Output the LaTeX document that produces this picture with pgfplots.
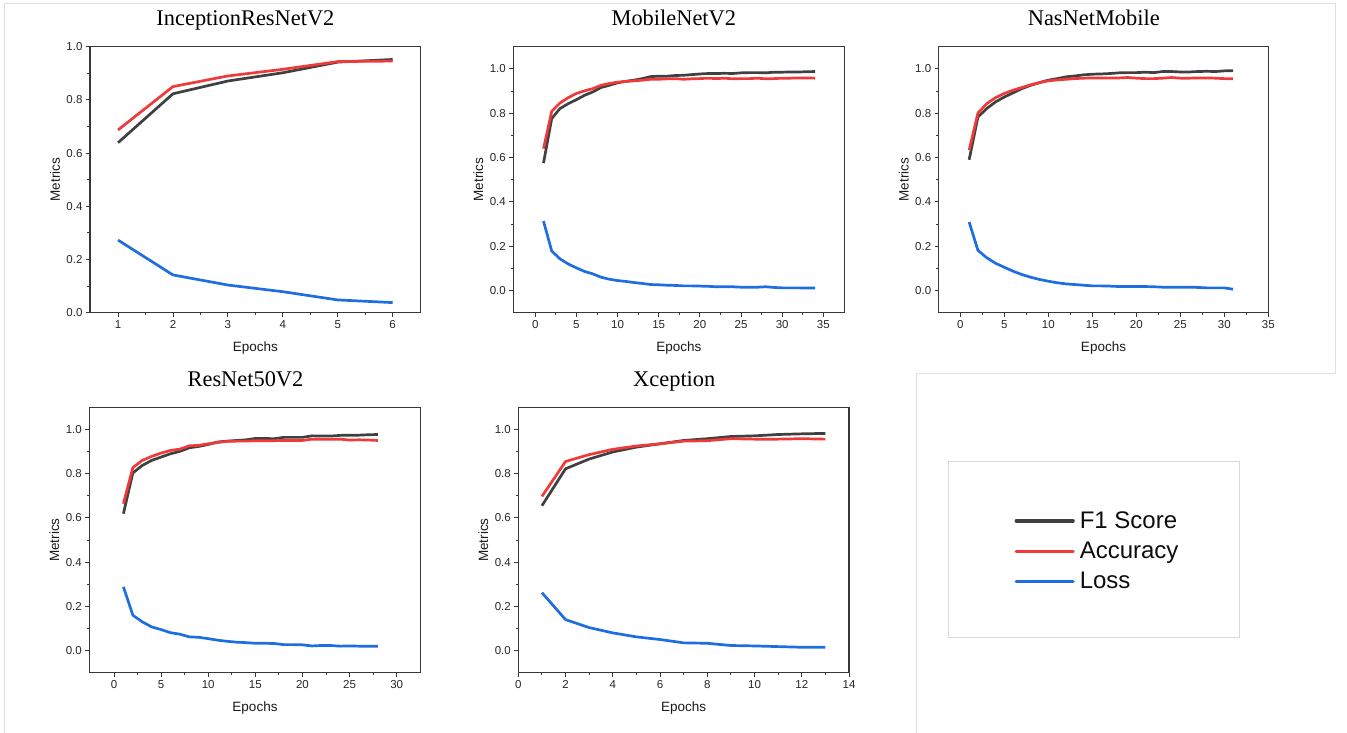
\documentclass[border=0pt]{standalone}
\usepackage{pgfplots}
\usepackage{pgfplotstable}
\pgfplotsset{compat=1.18}
\usepackage{fontspec}
\setmainfont{Liberation Sans}
\newfontfamily\titlefont{Liberation Serif}
\definecolor{f1c}{RGB}{64,64,64}
\definecolor{accc}{RGB}{240,58,58}
\definecolor{lossc}{RGB}{30,110,225}

\pgfplotstableread{
e f1 acc loss
1 0.639 0.687 0.273
2 0.823 0.850 0.142
3 0.871 0.890 0.104
4 0.902 0.915 0.079
5 0.942 0.944 0.048
6 0.952 0.946 0.038
}\dInc

\pgfplotstableread{
e f1 acc loss
1 0.575 0.640 0.313
2 0.776 0.809 0.178
3 0.821 0.846 0.143
4 0.843 0.870 0.120
5 0.861 0.889 0.102
6 0.881 0.901 0.086
7 0.896 0.911 0.075
8 0.916 0.926 0.060
9 0.926 0.934 0.051
10 0.937 0.940 0.045
11 0.944 0.943 0.041
12 0.949 0.946 0.036
13 0.956 0.949 0.032
14 0.965 0.953 0.027
15 0.967 0.953 0.026
16 0.967 0.955 0.024
17 0.970 0.956 0.023
18 0.971 0.953 0.021
19 0.974 0.955 0.021
20 0.977 0.956 0.020
21 0.979 0.958 0.019
22 0.979 0.956 0.017
23 0.980 0.958 0.017
24 0.979 0.955 0.017
25 0.982 0.956 0.015
26 0.983 0.956 0.015
27 0.983 0.958 0.015
28 0.982 0.955 0.017
29 0.985 0.956 0.014
30 0.985 0.958 0.012
31 0.986 0.958 0.012
32 0.986 0.959 0.012
33 0.987 0.959 0.011
34 0.988 0.958 0.011
}\dMob

\pgfplotstableread{
e f1 acc loss
1 0.590 0.633 0.309
2 0.783 0.801 0.181
3 0.821 0.843 0.148
4 0.851 0.870 0.123
5 0.873 0.889 0.105
6 0.892 0.904 0.087
7 0.911 0.916 0.072
8 0.926 0.928 0.060
9 0.938 0.938 0.050
10 0.949 0.946 0.042
11 0.956 0.950 0.035
12 0.964 0.953 0.030
13 0.968 0.956 0.027
14 0.973 0.958 0.024
15 0.976 0.959 0.021
16 0.977 0.959 0.021
17 0.979 0.959 0.020
18 0.982 0.959 0.018
19 0.983 0.961 0.018
20 0.983 0.958 0.018
21 0.985 0.956 0.018
22 0.983 0.956 0.017
23 0.988 0.958 0.015
24 0.988 0.961 0.015
25 0.986 0.958 0.015
26 0.986 0.958 0.015
27 0.988 0.959 0.014
28 0.989 0.959 0.012
29 0.988 0.958 0.012
30 0.991 0.956 0.012
31 0.992 0.955 0.006
}\dNas

\pgfplotstableread{
e f1 acc loss
1 0.619 0.664 0.288
2 0.803 0.827 0.160
3 0.837 0.860 0.130
4 0.860 0.878 0.107
5 0.875 0.893 0.095
6 0.890 0.905 0.081
7 0.901 0.911 0.074
8 0.917 0.926 0.062
9 0.923 0.928 0.060
10 0.932 0.935 0.054
11 0.943 0.941 0.047
12 0.947 0.946 0.042
13 0.950 0.947 0.038
14 0.953 0.947 0.036
15 0.959 0.949 0.033
16 0.959 0.949 0.033
17 0.958 0.949 0.032
18 0.964 0.950 0.027
19 0.964 0.950 0.027
20 0.964 0.950 0.026
21 0.971 0.956 0.021
22 0.970 0.955 0.023
23 0.970 0.955 0.023
24 0.973 0.956 0.020
25 0.974 0.952 0.021
26 0.974 0.953 0.020
27 0.976 0.952 0.020
28 0.977 0.950 0.020
}\dRes

\pgfplotstableread{
e f1 acc loss
1 0.655 0.697 0.262
2 0.822 0.855 0.140
3 0.866 0.886 0.104
4 0.898 0.910 0.080
5 0.920 0.925 0.062
6 0.935 0.935 0.050
7 0.950 0.947 0.035
8 0.958 0.949 0.033
9 0.968 0.958 0.023
10 0.971 0.956 0.021
11 0.977 0.956 0.018
12 0.980 0.958 0.015
13 0.982 0.956 0.015
}\dXce

\pgfplotsset{
  panel/.style={
    scale only axis,
    anchor=north west,
    axis line style={draw=black!78, line width=1.1pt},
    tick align=outside,
    xtick pos=bottom, ytick pos=left,
    major tick length=4pt, minor tick length=2.5pt,
    every tick/.style={draw=black!78, line width=0.9pt},
    minor x tick num=1, minor y tick num=1,
    ytick={0,0.2,0.4,0.6,0.8,1},
    yticklabel style={/pgf/number format/.cd, fixed, fixed zerofill, precision=1},
    /pgf/number format/assume math mode=true,
    tick label style={font=\fontsize{11.5}{13}\selectfont, text=black!85},
    xlabel={Epochs}, ylabel={Metrics},
    every axis x label/.style={at={(rel axis cs:0.5,0)}, anchor=base, yshift=-39pt, font=\fontsize{13.5}{15}\selectfont, text=black!90},
    every axis y label/.style={at={(rel axis cs:0,0.5)}, xshift=-35pt, rotate=90, anchor=center, font=\fontsize{13.5}{15}\selectfont, text=black!90},
    every axis title/.style={anchor=base, yshift=20.7pt, font=\titlefont\fontsize{22.4}{26}\selectfont},
    ymin=-0.1, ymax=1.1,
    clip=false,
  },
  f1/.style={f1c, line width=2.7pt, line join=round},
  acc/.style={accc, line width=2.7pt, line join=round},
  lss/.style={lossc, line width=2.7pt, line join=round},
}

\begin{document}
\begin{tikzpicture}
\path[use as bounding box] (0pt,0pt) rectangle (1347pt,-733pt);
\draw[black!12, line width=0.8pt] (4pt,-733pt) -- (4pt,-3.3pt) -- (1335.3pt,-3.3pt) -- (1335.3pt,-373.8pt) -- (916.7pt,-373.8pt) -- (916.7pt,-733pt);
\draw[black!15, line width=0.8pt] (948.3pt,-461pt) rectangle (1239.3pt,-637pt);

% InceptionResNetV2
\begin{axis}[panel, at={(90pt,-46.7pt)}, width=330.7pt, height=266pt,
  xmin=0.49, xmax=6.51, ymin=0, ymax=1,
  xtick={1,2,3,4,5,6},
  title={InceptionResNetV2}, title style={at={(0.47,1)}}]
\addplot[f1] table[x=e,y=f1] {\dInc};
\addplot[acc] table[x=e,y=acc] {\dInc};
\addplot[lss] table[x=e,y=loss] {\dInc};
\end{axis}

% MobileNetV2
\begin{axis}[panel, at={(513.3pt,-46.7pt)}, width=331pt, height=266pt,
  xmin=-2.67, xmax=37.55,
  xtick={0,5,10,15,20,25,30,35},
  title={MobileNetV2}, title style={at={(0.485,1)}}]
\addplot[f1] table[x=e,y=f1] {\dMob};
\addplot[acc] table[x=e,y=acc] {\dMob};
\addplot[lss] table[x=e,y=loss] {\dMob};
\end{axis}

% NasNetMobile
\begin{axis}[panel, at={(938.7pt,-46.7pt)}, width=329.6pt, height=266pt,
  xmin=-2.46, xmax=35,
  xtick={0,5,10,15,20,25,30,35},
  title={NasNetMobile}, title style={at={(0.4706,1)}}]
\addplot[f1] table[x=e,y=f1] {\dNas};
\addplot[acc] table[x=e,y=acc] {\dNas};
\addplot[lss] table[x=e,y=loss] {\dNas};
\end{axis}

% ResNet50V2
\begin{axis}[panel, at={(89.3pt,-407.3pt)}, width=331.4pt, height=265.4pt,
  xmin=-2.62, xmax=32.55,
  xtick={0,5,10,15,20,25,30},
  title={ResNet50V2}, title style={at={(0.4713,1)}}]
\addplot[f1] table[x=e,y=f1] {\dRes};
\addplot[acc] table[x=e,y=acc] {\dRes};
\addplot[lss] table[x=e,y=loss] {\dRes};
\end{axis}

% Xception
\begin{axis}[panel, at={(518.3pt,-407.3pt)}, width=330.7pt, height=265.4pt,
  xmin=0, xmax=14,
  xtick={0,2,4,6,8,10,12,14},
  title={Xception}, title style={at={(0.4717,1)}},
  legend style={at={(1.500,0.4586)}, anchor=west, draw=none, fill=none,
    inner sep=0pt, row sep=8pt, column sep=3pt,
    font=\fontsize{24}{28}\selectfont, text=black!95},
  legend cell align=left,
  legend image code/.code={\draw[#1, line cap=round, line width=3.2pt] (0pt,0pt) -- (57pt,0pt);}]
\addplot[f1] table[x=e,y=f1] {\dXce};
\addlegendentry{F1 Score}
\addplot[acc] table[x=e,y=acc] {\dXce};
\addlegendentry{Accuracy}
\addplot[lss] table[x=e,y=loss] {\dXce};
\addlegendentry{Loss}
\end{axis}
\end{tikzpicture}
\end{document}
